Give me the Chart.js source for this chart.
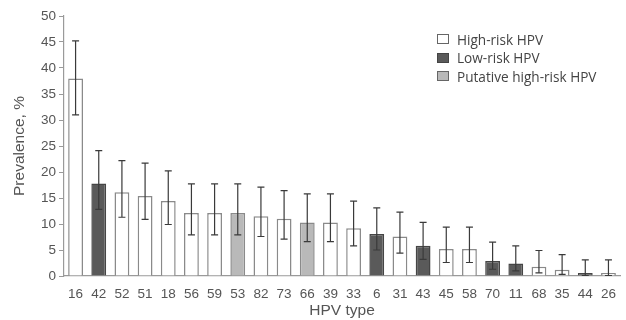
<!DOCTYPE html>
<html>
<head>
<meta charset="utf-8">
<script src="https://cdn.jsdelivr.net/npm/chart.js@4/dist/chart.umd.min.js"></script>
<style>
  html, body { margin: 0; padding: 0; background: #fff; }
  #wrap { position: relative; width: 626px; height: 320px; }
  #legend { position: absolute; left: 437px; top: 30px; font-family: "Open Sans", sans-serif; font-size: 13.6px; color: #444; }
  .item { display: flex; align-items: center; height: 18.5px; }
  .box { width: 12px; height: 10px; box-sizing: border-box; margin-right: 8px; border: 1.3px solid #555; }
</style>
</head>
<body>
<div id="wrap">
  <canvas id="c" width="626" height="320"></canvas>
  <div id="legend"></div>
</div>
<script>
const hpvTypes = ['16','42','52','51','18','56','59','53','82','73','66','39','33','6','31','43','45','58','70','11','68','35','44','26'];
const prevalence = [38.0,17.8,16.1,15.4,14.4,12.1,12.1,12.1,11.5,11.0,10.3,10.3,9.2,8.1,7.6,5.8,5.2,5.2,2.9,2.4,1.8,1.2,0.6,0.6];
const ciLow  = [31.0,12.8,11.3,10.9,9.9,7.9,7.9,7.9,7.6,7.1,6.6,6.6,5.8,5.0,4.4,3.2,2.6,2.6,1.3,1.0,0.6,0.3,0.1,0.1];
const ciHigh = [45.2,24.1,22.2,21.7,20.2,17.7,17.7,17.7,17.1,16.4,15.8,15.8,14.4,13.1,12.3,10.3,9.4,9.4,6.5,5.8,4.9,4.1,3.1,3.1];
const riskGroup = ['high','low','high','high','high','high','high','putative','high','high','putative','high','high','low','high','low','high','high','low','low','high','high','low','high'];
const groupNames = { high: 'High-risk HPV', low: 'Low-risk HPV', putative: 'Putative high-risk HPV' };
const yTicks = [0,5,10,15,20,25,30,35,40,45,50];

const fillOf = { high: '#ffffff', low: '#5a5a5a', putative: '#b9b9b9' };
const borderOf = { high: '#8a8a8a', low: '#454545', putative: '#8a8a8a' };

const errorBars = {
  id: 'errorBars',
  afterDatasetsDraw(chart) {
    const ctx = chart.ctx;
    const y = chart.scales.y;
    const meta = chart.getDatasetMeta(0);
    ctx.save();
    ctx.strokeStyle = '#3a3a3a';
    ctx.lineWidth = 1.2;
    meta.data.forEach((el, i) => {
      const x = el.x;
      const yh = y.getPixelForValue(ciHigh[i]);
      const yl = y.getPixelForValue(ciLow[i]);
      ctx.beginPath();
      ctx.moveTo(x, yh); ctx.lineTo(x, yl);
      ctx.moveTo(x - 3.5, yh); ctx.lineTo(x + 3.5, yh);
      ctx.moveTo(x - 3.5, yl); ctx.lineTo(x + 3.5, yl);
      ctx.stroke();
    });
    ctx.restore();
  }
};

new Chart(document.getElementById('c'), {
  type: 'bar',
  data: {
    labels: hpvTypes,
    datasets: [{
      data: prevalence,
      backgroundColor: riskGroup.map(g => fillOf[g]),
      borderColor: riskGroup.map(g => borderOf[g]),
      borderWidth: 1.5,
      categoryPercentage: 1,
      barPercentage: 0.64
    }]
  },
  options: {
    responsive: false,
    animation: false,
    layout: { padding: { top: 16, right: 2, left: 0, bottom: 0 } },
    plugins: { legend: { display: false }, tooltip: { enabled: false } },
    scales: {
      x: {
        grid: { display: false, drawTicks: false },
        border: { color: '#9a9a9a', width: 1.2 },
        ticks: { color: '#555', font: { family: 'Liberation Sans, Arial', size: 13.5 }, padding: 10, maxRotation: 0, autoSkip: false },
        title: { display: true, text: 'HPV type', color: '#555', font: { family: 'Liberation Sans, Arial', size: 15.5 }, padding: { top: 0, bottom: 0 } },
        afterFit(s) { s.height = 44; }
      },
      y: {
        min: 0, max: 50,
        afterBuildTicks(s) { s.ticks = yTicks.map(v => ({ value: v })); },
        grid: { drawOnChartArea: false, color: '#9a9a9a', tickLength: 5 },
        border: { color: '#9a9a9a', width: 1.2 },
        ticks: { color: '#555', font: { family: 'Liberation Sans, Arial', size: 13.5 }, padding: 3 },
        title: { display: true, text: 'Prevalence, %', color: '#555', font: { family: 'Liberation Sans, Arial', size: 15.5 }, padding: { top: 10, bottom: 0 } },
        afterFit(s) { s.width = 64; }
      }
    }
  },
  plugins: [errorBars]
});

const legend = document.getElementById('legend');
['high','low','putative'].forEach(g => {
  const row = document.createElement('div');
  row.className = 'item';
  const b = document.createElement('span');
  b.className = 'box';
  b.style.background = fillOf[g];
  b.style.borderColor = g === 'low' ? '#444' : '#666';
  const t = document.createElement('span');
  t.textContent = groupNames[g];
  row.appendChild(b); row.appendChild(t);
  legend.appendChild(row);
});
</script>
</body>
</html>
